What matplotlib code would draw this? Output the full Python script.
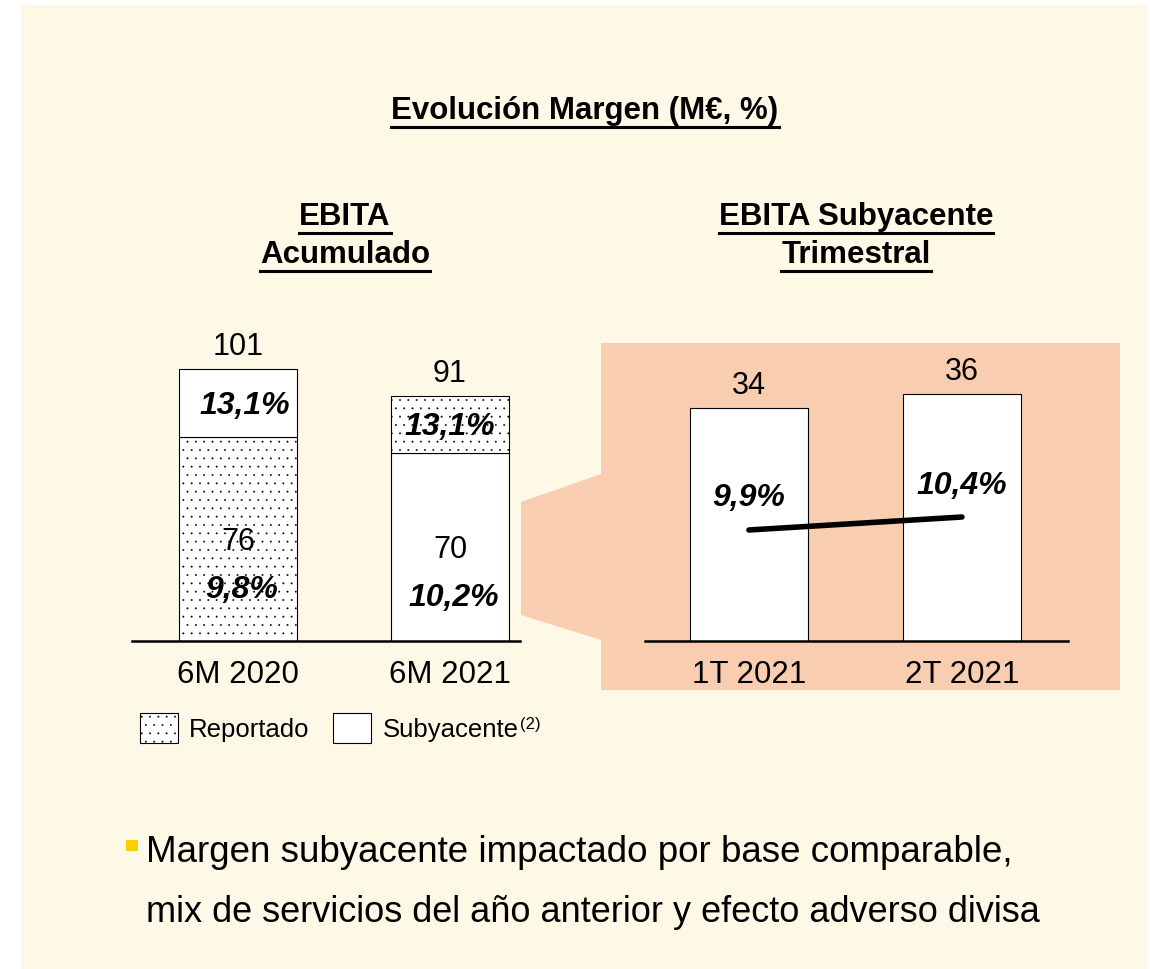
import matplotlib
matplotlib.use('Agg')
import matplotlib.pyplot as plt
from matplotlib.patches import Rectangle, Polygon
from matplotlib.lines import Line2D

plt.rcParams['font.family'] = ['Liberation Sans', 'DejaVu Sans']
plt.rcParams['hatch.linewidth'] = 0.15
plt.rcParams['hatch.color'] = 'black'

# data
periods = ['6M 2020', '6M 2021']
base_vals = [76, 70]
total_vals = [101, 91]
base_margin = ['9,8%', '10,2%']
top_margin = ['13,1%', '13,1%']
base_hatch = ['..', '']
top_hatch = ['', '..']

quarters = ['1T 2021', '2T 2021']
ebita_q = [34, 36]
margin_q = [9.9, 10.4]
margin_q_lbl = ['9,9%', '10,4%']

W, H = 1150, 969
CREAM = '#FEF9E7'
SALMON = '#F9CDB0'

fig = plt.figure(figsize=(W / 100, H / 100), dpi=100)
fig.patch.set_facecolor('white')


def fx(x):
    return x / W


def fy(y):
    return 1 - y / H


def px_axes(x0, y_top, x1, y_bot):
    return fig.add_axes([fx(x0), fy(y_bot), fx(x1) - fx(x0), fy(y_top) - fy(y_bot)])


# background panels
fig.patches.append(Rectangle((fx(21), fy(969)), fx(1148) - fx(21), fy(5) - fy(969),
                             transform=fig.transFigure, facecolor=CREAM, edgecolor='none', zorder=-3))
fig.patches.append(Rectangle((fx(601), fy(690)), fx(1120) - fx(601), fy(343) - fy(690),
                             transform=fig.transFigure, facecolor=SALMON, edgecolor='none', zorder=-2))
fig.patches.append(Polygon([(fx(521), fy(502)), (fx(601), fy(474)), (fx(601), fy(640)), (fx(521), fy(615))],
                           closed=True, transform=fig.transFigure, facecolor=SALMON, edgecolor='none', zorder=-2))

# left chart: accumulated EBITA
ax1 = px_axes(132, 330, 520, 641)
ax1.set_xlim(-0.5, 1.33)
ax1.set_ylim(0, 311 / 2.69)
top_vals = [t - b for t, b in zip(total_vals, base_vals)]
for i in range(len(periods)):
    ax1.bar(i, base_vals[i], width=0.557, color='white', edgecolor='black', linewidth=0.8,
            hatch=base_hatch[i], zorder=2)
    ax1.bar(i, top_vals[i], bottom=base_vals[i], width=0.557, color='white', edgecolor='black',
            linewidth=0.8, hatch=top_hatch[i], zorder=2)
    ax1.annotate(str(total_vals[i]), (i, total_vals[i]), xytext=(0, 5), textcoords='offset points',
                 ha='center', va='bottom', fontsize=22)
    ax1.annotate(str(base_vals[i]), (i, base_vals[i] / 2), xytext=(0, -2), textcoords='offset points',
                 ha='center', va='center', fontsize=22)
    ax1.annotate(base_margin[i], (i, base_vals[i] / 2), xytext=(3, -37), textcoords='offset points',
                 ha='center', va='center', fontsize=23, fontweight='bold', fontstyle='italic')
    ax1.annotate(top_margin[i], (i, base_vals[i] + top_vals[i] / 2), xytext=(5 if i == 0 else 0, -2),
                 textcoords='offset points', ha='center', va='center', fontsize=23,
                 fontweight='bold', fontstyle='italic')
ax1.set_xticks(range(len(periods)))
ax1.set_xticklabels(periods, fontsize=22.5)

# right chart: quarterly underlying EBITA
ax2 = px_axes(645, 343, 1068, 641)
ax2.set_xlim(-0.488, 1.498)
ax2.set_ylim(0, 298 / 6.85)
ax2.bar(range(len(quarters)), ebita_q, width=0.55, color='white', edgecolor='black', linewidth=0.8, zorder=2)
for i, v in enumerate(ebita_q):
    ax2.annotate(str(v), (i, v), xytext=(0, 5), textcoords='offset points',
                 ha='center', va='bottom', fontsize=22)
ax2.set_xticks(range(len(quarters)))
ax2.set_xticklabels(quarters, fontsize=22.5)

ax3 = ax2.twinx()
y0 = 9.9 - 111 / 26
ax3.set_ylim(y0, y0 + 298 / 26)
ax3.plot(range(len(quarters)), margin_q, color='black', linewidth=4, solid_capstyle='round', zorder=3)
for i, v in enumerate(margin_q):
    ax3.annotate(margin_q_lbl[i], (i, v), xytext=(0, 23 if i == 0 else 22), textcoords='offset points',
                 ha='center', va='center', fontsize=23, fontweight='bold', fontstyle='italic')

for ax in (ax1, ax2, ax3):
    ax.set_facecolor('none')
    for s in ('left', 'right', 'top'):
        ax.spines[s].set_visible(False)
    ax.spines['bottom'].set_linewidth(1.8)
    ax.set_yticks([])
    ax.tick_params(axis='x', length=0, pad=14)
ax3.spines['bottom'].set_visible(False)

# headings
headings = [
    ('Evolución Margen (M€, %)', 585, 119, 22.5),
    ('EBITA', 345, 225, 22.5),
    ('Acumulado', 345, 263, 22.5),
    ('EBITA Subyacente', 856, 225, 22.5),
    ('Trimestral', 856, 263, 22.5),
]
htexts = []
for txt, x, y, fs in headings:
    t = fig.text(fx(x), fy(y), txt, ha='center', va='baseline', fontsize=fs, fontweight='bold')
    htexts.append((t, y))

# legend
fig.patches.append(Rectangle((fx(140), fy(743)), fx(178) - fx(140), fy(713) - fy(743),
                             transform=fig.transFigure, facecolor='white', edgecolor='black',
                             linewidth=0.8, hatch='..'))
fig.text(fx(189), fy(730), 'Reportado', ha='left', va='center', fontsize=18.5)
fig.patches.append(Rectangle((fx(333), fy(743)), fx(371) - fx(333), fy(713) - fy(743),
                             transform=fig.transFigure, facecolor='white', edgecolor='black',
                             linewidth=0.8))
sub = fig.text(fx(383), fy(730), 'Subyacente', ha='left', va='center', fontsize=18.5)

# bullet text
fig.patches.append(Rectangle((fx(126), fy(851)), fx(138) - fx(126), fy(840) - fy(851),
                             transform=fig.transFigure, facecolor='#FFCC00', edgecolor='none'))
fig.text(fx(146), fy(853), 'Margen subyacente impactado por base comparable,',
         ha='left', va='center', fontsize=26.5)
fig.text(fx(146), fy(913), 'mix de servicios del año anterior y efecto adverso divisa',
         ha='left', va='center', fontsize=26)

# underline headings, superscript
fig.canvas.draw()
r = fig.canvas.get_renderer()
for t, y in htexts:
    bb = t.get_window_extent(renderer=r)
    uy = fy(y + 8)
    fig.lines.append(Line2D([bb.x0 / W, bb.x1 / W], [uy, uy], transform=fig.transFigure,
                            color='black', linewidth=2.2))
sb = sub.get_window_extent(renderer=r)
fig.text(sb.x1 / W + 0.001, fy(724), '(2)', ha='left', va='center', fontsize=12)

fig.savefig('out.png', dpi=100, facecolor='white')
